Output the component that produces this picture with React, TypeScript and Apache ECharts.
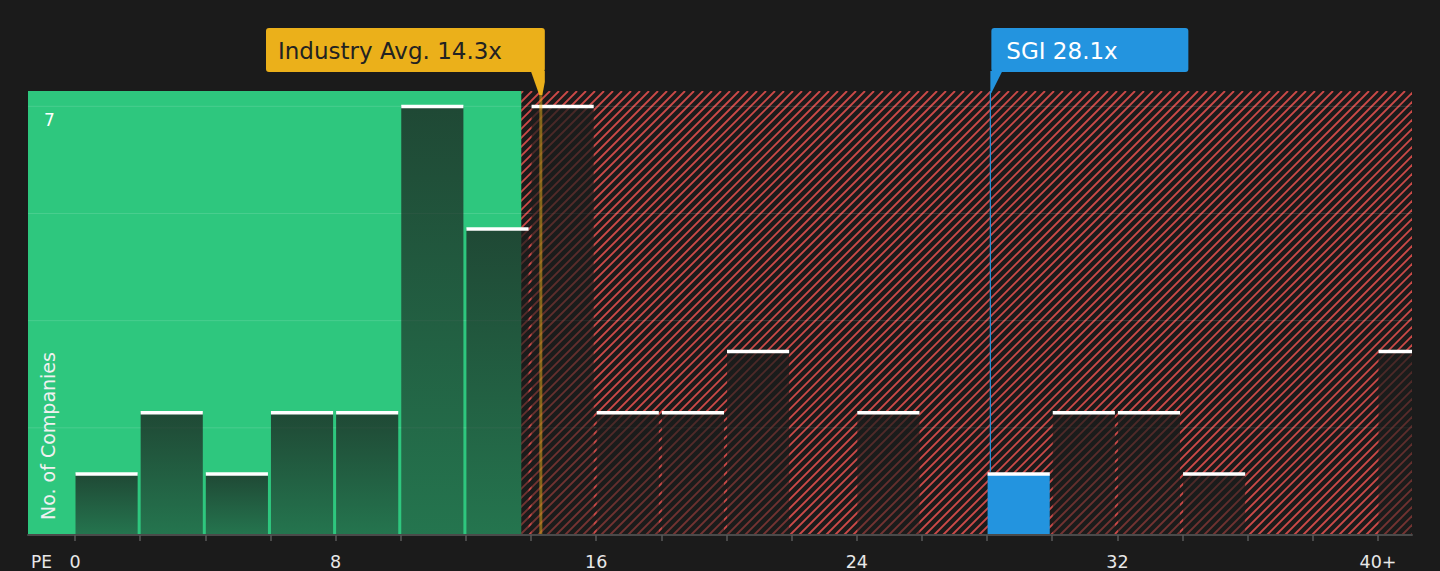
import React, { useEffect, useRef } from "react";
import * as echarts from "echarts";

// ---- data ----
const binStarts = [0, 2, 4, 6, 8, 10, 12, 14, 16, 18, 20, 22, 24, 26, 28, 30, 32, 34, 36, 38, 40];
const counts = [1, 2, 1, 2, 2, 7, 5, 7, 2, 2, 3, 0, 2, 0, 1, 2, 2, 1, 0, 0, 3];
const binWidth = 2;
const highlightBinStart = 28;
const xTickValues = [0, 2, 4, 6, 8, 10, 12, 14, 16, 18, 20, 22, 24, 26, 28, 30, 32, 34, 36, 38, 40];
const xLabelValues = [0, 8, 16, 24, 32, 40];
const yInterval = 1.75;
const yGridValues = [1.75, 3.5, 5.25, 7];
const yLabelValues = [7];
const industryAvg = 14.3;
const companyPE = 28.1;
const companyName = "SGI";
const fairLimit = 13.7;
const X_MIN = -1.443;
const X_MAX = 41.044;
const Y_MAX = 7.25;

const FONT = "DejaVu Sans";
const GREEN = "#2ec77e";
const GOLD = "#ebb01a";
const BLUE = "#2394df";
const BG = "#1b1b1b";

export default function App() {
  const ref = useRef<HTMLDivElement>(null);

  useEffect(() => {
    document.body.style.margin = "0";
    document.body.style.background = BG;
    const chart = echarts.init(ref.current!, null, { renderer: "svg" });

    const barData = binStarts
      .map((s, i) => [s, counts[i]])
      .filter((d) => d[1] > 0);

    const option: any = {
      animation: false,
      backgroundColor: BG,
      grid: { left: 28, right: 28, top: 91, bottom: 36, containLabel: false },
      xAxis: {
        type: "value",
        min: X_MIN,
        max: X_MAX,
        z: 10,
        splitLine: { show: false },
        axisLine: { show: true, lineStyle: { color: "#4a4a4a", width: 2 } },
        axisTick: {
          show: true,
          customValues: xTickValues,
          length: 6,
          lineStyle: { color: "#5a5a5a", width: 1.5 },
        },
        axisLabel: {
          customValues: xLabelValues,
          formatter: (v: number) => (v === 40 ? "40+" : String(v)),
          color: "#e8e8e8",
          fontSize: 17.5,
          fontFamily: FONT,
          margin: 18,
        },
      },
      yAxis: {
        type: "value",
        min: 0,
        max: Y_MAX,
        interval: yInterval,
        z: 10,
        splitLine: { show: false },
        axisLine: { show: false },
        axisTick: { show: false },
        axisLabel: {
          show: true,
          inside: true,
          showMaxLabel: false,
          showMinLabel: false,
          formatter: (v: number) => (yLabelValues.indexOf(v) >= 0 ? String(v) : ""),
          verticalAlign: "top",
          padding: [5, 0, 0, 0],
          margin: 16,
          color: "#ffffff",
          fontSize: 17,
          fontFamily: FONT,
        },
      },
      series: [
        {
          // hatched overvalued background
          type: "custom",
          z: 1,
          clip: true,
          silent: true,
          data: [[0, 0]],
          renderItem: (params: any, api: any) => {
            const cs = params.coordSys;
            const children: any[] = [];
            const gap = 9;
            for (let k = -cs.height; k < cs.width + gap; k += gap) {
              children.push({
                type: "line",
                shape: { x1: cs.x + k, y1: cs.y + cs.height, x2: cs.x + k + cs.height, y2: cs.y },
                style: { stroke: "#cc4a48", lineWidth: 1.9 },
              });
            }
            return { type: "group", children };
          },
        },
        {
          // green fair zone
          type: "custom",
          z: 2,
          clip: true,
          silent: true,
          data: [[X_MIN, fairLimit]],
          renderItem: (params: any, api: any) => {
            const p0 = api.coord([api.value(0), Y_MAX]);
            const p1 = api.coord([api.value(1), 0]);
            return {
              type: "rect",
              shape: { x: p0[0], y: p0[1], width: p1[0] - p0[0], height: p1[1] - p0[1] },
              style: { fill: GREEN },
            };
          },
        },
        {
          // gridlines
          type: "custom",
          z: 3,
          clip: true,
          silent: true,
          data: yGridValues.map((v) => [v]),
          renderItem: (params: any, api: any) => {
            const y = api.value(0);
            const p0 = api.coord([X_MIN, y]);
            const p1 = api.coord([X_MAX, y]);
            return {
              type: "line",
              shape: { x1: p0[0], y1: p0[1], x2: p1[0], y2: p1[1] },
              style: { stroke: "rgba(255,255,255,0.13)", lineWidth: 1 },
            };
          },
        },
        {
          // histogram bars
          type: "custom",
          z: 4,
          clip: true,
          silent: true,
          data: barData,
          renderItem: (params: any, api: any) => {
            const s = api.value(0);
            const v = api.value(1);
            const p0 = api.coord([s, v]);
            const p1 = api.coord([s + binWidth, 0]);
            const x = p0[0] + 0.5;
            const w = p1[0] - p0[0] - 3;
            const h = p1[1] - p0[1];
            const isHi = s === highlightBinStart;
            const fill = isHi
              ? BLUE
              : new echarts.graphic.LinearGradient(0, 0, 0, 1, [
                  { offset: 0, color: "rgba(26,28,27,0.74)" },
                  { offset: 1, color: "rgba(26,28,27,0.48)" },
                ]);
            return {
              type: "group",
              children: [
                { type: "rect", shape: { x, y: p0[1], width: w, height: h }, style: { fill } },
                { type: "rect", shape: { x, y: p0[1] - 1.5, width: w, height: 3.5 }, style: { fill: "#ffffff" } },
              ],
            };
          },
        },
        {
          // reference lines
          type: "custom",
          z: 5,
          clip: true,
          silent: true,
          data: [
            [industryAvg, Y_MAX, 0],
            [companyPE, Y_MAX, counts[binStarts.indexOf(highlightBinStart)]],
          ],
          renderItem: (params: any, api: any) => {
            const x = api.value(0);
            const p0 = api.coord([x, api.value(1)]);
            const p1 = api.coord([x, api.value(2)]);
            const isInd = params.dataIndex === 0;
            return {
              type: "line",
              shape: { x1: p0[0], y1: p0[1], x2: p1[0], y2: isInd ? p1[1] : p1[1] - 2 },
              style: isInd
                ? { stroke: "rgba(235,176,26,0.5)", lineWidth: 3 }
                : { stroke: BLUE, lineWidth: 1.2 },
            };
          },
        },
      ],
    };

    chart.setOption(option);

    const indX = chart.convertToPixel({ xAxisIndex: 0 }, industryAvg) as number;
    const sgiX = chart.convertToPixel({ xAxisIndex: 0 }, companyPE) as number;
    const topY = chart.convertToPixel({ yAxisIndex: 0 }, Y_MAX) as number;

    const boxTop = 28;
    const boxH = 44;
    const indRight = indX + 4;
    const indLeft = 266;
    const sgiLeft = sgiX + 1;
    const sgiW = 197;

    chart.setOption({
      graphic: [
        {
          type: "rect",
          z: 100,
          shape: { x: indLeft, y: boxTop, width: indRight - indLeft, height: boxH, r: 3 },
          style: { fill: GOLD },
        },
        {
          type: "polygon",
          z: 100,
          shape: {
            points: [
              [indRight - 14, boxTop + boxH - 1],
              [indRight, boxTop + boxH - 1],
              [indRight, boxTop + boxH + 10],
              [indX + 1.5, topY + 4],
              [indX - 1.5, topY + 4],
            ],
          },
          style: { fill: GOLD },
        },
        {
          type: "text",
          z: 101,
          x: indLeft + 12,
          y: boxTop + boxH / 2 + 1,
          style: {
            text: `Industry Avg. ${industryAvg}x`,
            fill: "#222222",
            fontSize: 23,
            fontFamily: FONT,
            verticalAlign: "middle",
            align: "left",
          },
        },
        {
          type: "rect",
          z: 100,
          shape: { x: sgiLeft, y: boxTop, width: sgiW, height: boxH, r: 3 },
          style: { fill: BLUE },
        },
        {
          type: "polygon",
          z: 100,
          shape: {
            points: [
              [sgiX, boxTop + boxH - 1],
              [sgiX + 12, boxTop + boxH - 1],
              [sgiX + 1, topY + 2],
              [sgiX, topY + 2],
            ],
          },
          style: { fill: BLUE },
        },
        {
          type: "text",
          z: 101,
          x: sgiLeft + 15,
          y: boxTop + boxH / 2 + 1,
          style: {
            text: `${companyName} ${companyPE}x`,
            fill: "#ffffff",
            fontSize: 23,
            fontFamily: FONT,
            verticalAlign: "middle",
            align: "left",
          },
        },
        {
          type: "text",
          z: 101,
          x: 48,
          y: 520,
          rotation: Math.PI / 2,
          style: {
            text: "No. of Companies",
            fill: "#f0f0f0",
            fontSize: 19,
            fontFamily: FONT,
            verticalAlign: "middle",
            align: "left",
          },
        },
        {
          type: "text",
          z: 101,
          x: 31,
          y: 562,
          style: {
            text: "PE",
            fill: "#e8e8e8",
            fontSize: 17,
            fontFamily: FONT,
            verticalAlign: "middle",
            align: "left",
          },
        },
      ],
    });

    return () => chart.dispose();
  }, []);

  return <div ref={ref} style={{ width: 1440, height: 571, background: BG }} />;
}
